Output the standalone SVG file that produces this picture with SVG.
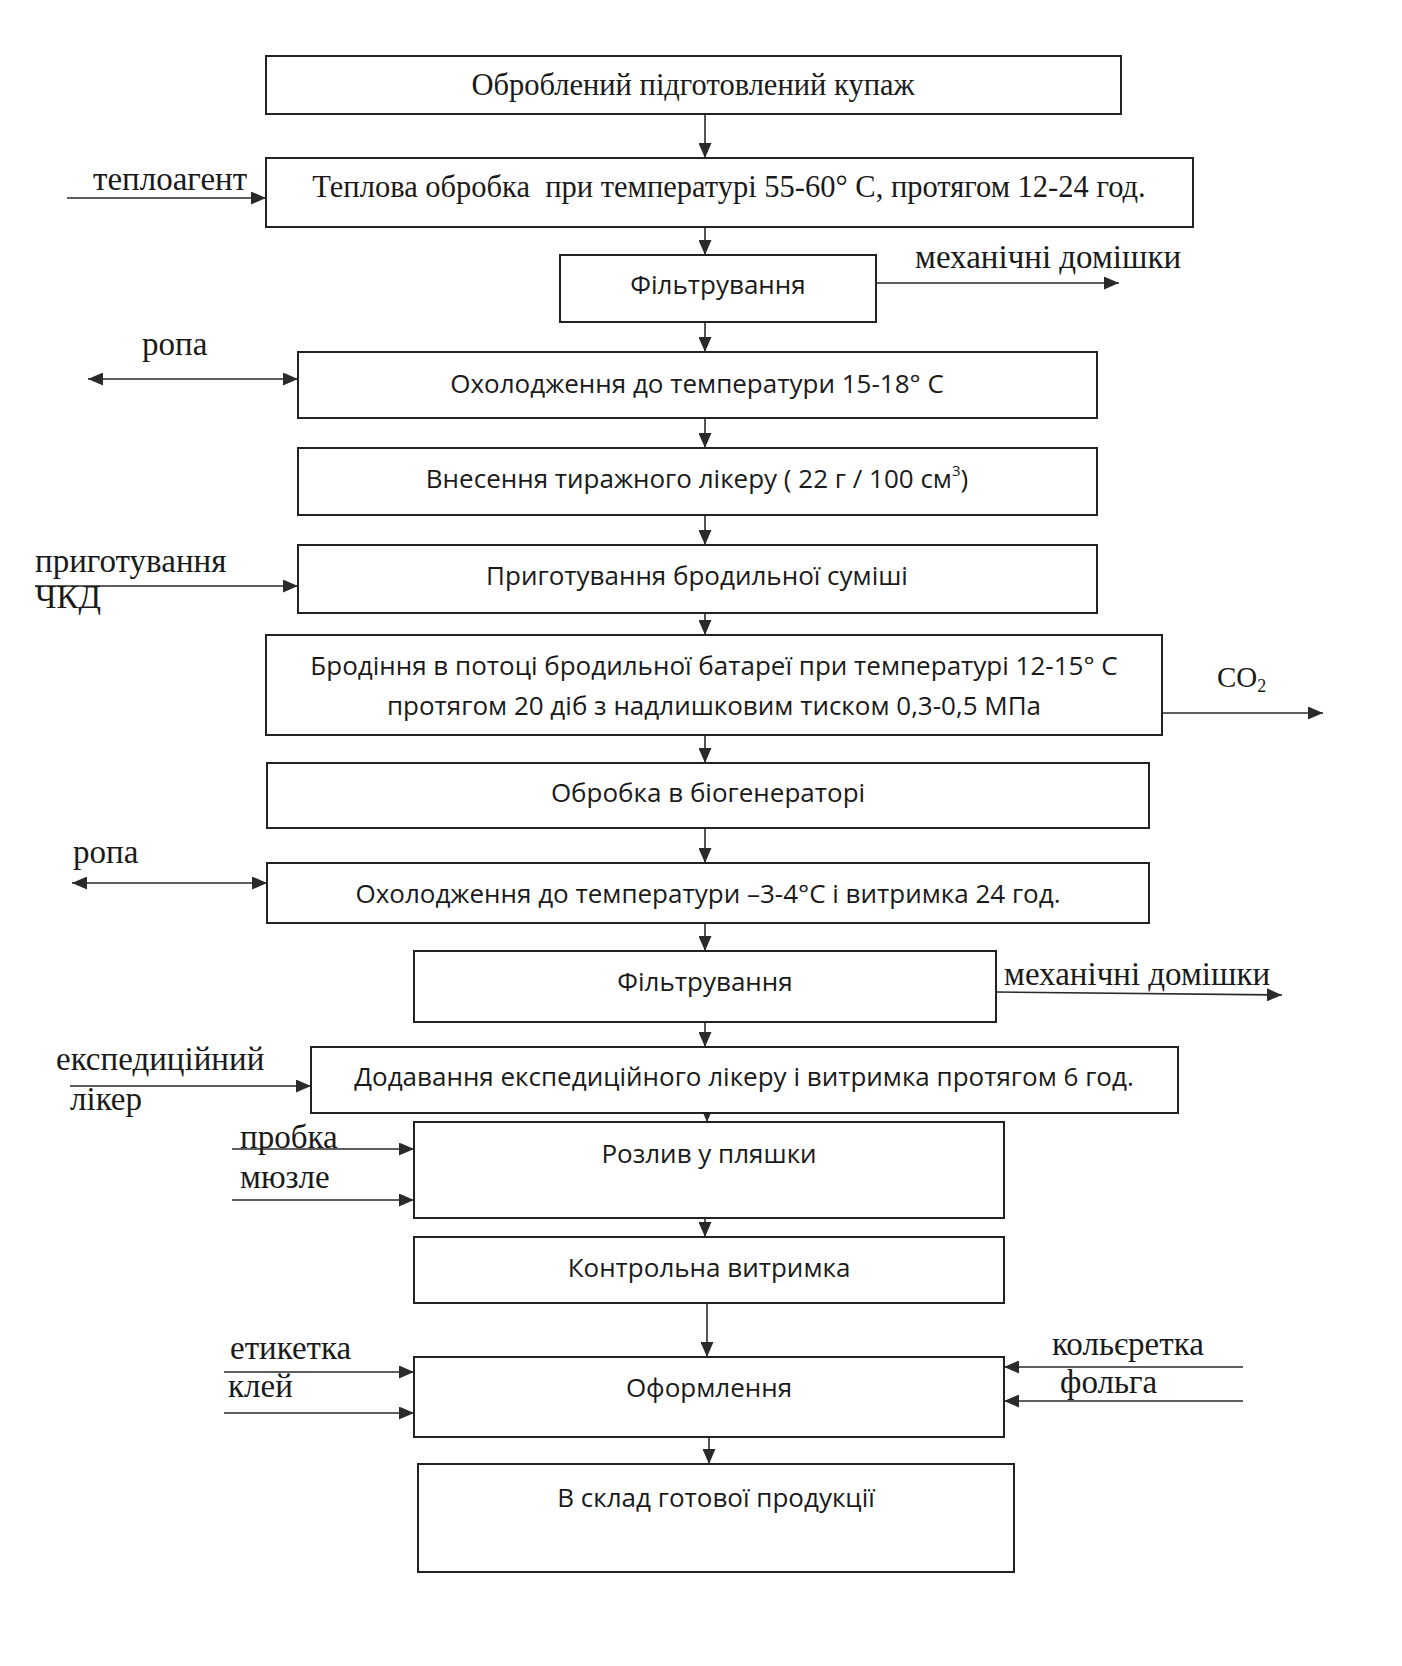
<svg xmlns="http://www.w3.org/2000/svg" width="1402" height="1666" viewBox="0 0 1402 1666">
<style>
.box{fill:#fff;stroke:#222;stroke-width:2}
.ln{fill:none;stroke:#2a2a2a;stroke-width:1.6}
.serif{font-family:"Liberation Serif","Times New Roman",serif;fill:#1a1a1a}
.sans{font-family:"Open Sans","Noto Sans",sans-serif;fill:#1a1a1a;font-size:26px}
.bt{font-size:30.5px}
.lb{font-size:33px}
.c{text-anchor:middle}
</style>
<defs>
<marker id="ah" viewBox="0 0 15 13" markerWidth="15" markerHeight="13" refX="15" refY="6.5" orient="auto-start-reverse" markerUnits="userSpaceOnUse">
<path d="M0,0 L15,6.5 L0,13 Z" fill="#2a2a2a"/>
</marker>
</defs>
<rect width="1402" height="1666" fill="#fff"/>

<g id="connectors">
<line class="ln" x1="705" y1="114" x2="705" y2="158" marker-end="url(#ah)"/>
<line class="ln" x1="705" y1="220" x2="705" y2="255" marker-end="url(#ah)"/>
<line class="ln" x1="705" y1="322" x2="705" y2="352" marker-end="url(#ah)"/>
<line class="ln" x1="705" y1="413" x2="705" y2="448" marker-end="url(#ah)"/>
<line class="ln" x1="705" y1="515" x2="705" y2="545" marker-end="url(#ah)"/>
<line class="ln" x1="705" y1="607" x2="705" y2="635" marker-end="url(#ah)"/>
<line class="ln" x1="705" y1="728" x2="705" y2="763" marker-end="url(#ah)"/>
<line class="ln" x1="705" y1="828" x2="705" y2="863" marker-end="url(#ah)"/>
<line class="ln" x1="705" y1="917" x2="705" y2="951" marker-end="url(#ah)"/>
<line class="ln" x1="705" y1="1017" x2="705" y2="1047" marker-end="url(#ah)"/>
<line class="ln" x1="707" y1="1106" x2="707" y2="1122" marker-end="url(#ah)"/>
<line class="ln" x1="705" y1="1207" x2="705" y2="1237" marker-end="url(#ah)"/>
<line class="ln" x1="707" y1="1303" x2="707" y2="1357" marker-end="url(#ah)"/>
<line class="ln" x1="709" y1="1423" x2="709" y2="1464" marker-end="url(#ah)"/>

<line class="ln" x1="67" y1="198" x2="266" y2="198" marker-end="url(#ah)"/>
<line class="ln" x1="877" y1="283" x2="1119" y2="283" marker-end="url(#ah)"/>
<line class="ln" x1="88" y1="379" x2="298" y2="379" marker-start="url(#ah)" marker-end="url(#ah)"/>
<line class="ln" x1="35" y1="586" x2="298" y2="586" marker-end="url(#ah)"/>
<line class="ln" x1="1162" y1="713" x2="1323" y2="713" marker-end="url(#ah)"/>
<line class="ln" x1="72" y1="883" x2="267" y2="883" marker-start="url(#ah)" marker-end="url(#ah)"/>
<line class="ln" x1="996" y1="992" x2="1282" y2="995" marker-end="url(#ah)"/>
<line class="ln" x1="70" y1="1086" x2="311" y2="1086" marker-end="url(#ah)"/>
<line class="ln" x1="232" y1="1149" x2="414" y2="1149" marker-end="url(#ah)"/>
<line class="ln" x1="232" y1="1200" x2="414" y2="1200" marker-end="url(#ah)"/>
<line class="ln" x1="224" y1="1372" x2="414" y2="1372" marker-end="url(#ah)"/>
<line class="ln" x1="224" y1="1413" x2="414" y2="1413" marker-end="url(#ah)"/>
<line class="ln" x1="1243" y1="1367" x2="1004" y2="1367" marker-end="url(#ah)"/>
<line class="ln" x1="1243" y1="1401" x2="1004" y2="1401" marker-end="url(#ah)"/>
</g>

<g id="n1"><rect class="box" x="266" y="56" width="855" height="58"/><text class="serif bt c" x="693" y="95">Оброблений підготовлений купаж</text></g>
<g id="n2"><rect class="box" x="266" y="158" width="927" height="69"/><text class="serif bt c" x="729" y="197" xml:space="preserve">Теплова обробка  при температурі 55-60° С, протягом 12-24 год.</text></g>
<g id="n3"><rect class="box" x="560" y="255" width="316" height="67"/><text class="sans c" x="718" y="294">Фільтрування</text></g>
<g id="n4"><rect class="box" x="298" y="352" width="799" height="66"/><text class="sans c" x="697" y="393">Охолодження до температури 15-18° С</text></g>
<g id="n5"><rect class="box" x="298" y="448" width="799" height="67"/><text class="sans c" x="697" y="488">Внесення тиражного лікеру ( 22 г / 100 см<tspan font-size="15" dy="-12">3</tspan><tspan dy="12">)</tspan></text></g>
<g id="n6"><rect class="box" x="298" y="545" width="799" height="68"/><text class="sans c" x="697" y="585">Приготування бродильної суміші</text></g>
<g id="n7"><rect class="box" x="266" y="635" width="896" height="100"/><text class="sans c" x="714" y="675">Бродіння в потоці бродильної батареї при температурі 12-15° С</text><text class="sans c" x="714" y="715">протягом 20 діб з надлишковим тиском 0,3-0,5 МПа</text></g>
<g id="n8"><rect class="box" x="267" y="763" width="882" height="65"/><text class="sans c" x="708" y="802">Обробка в біогенераторі</text></g>
<g id="n9"><rect class="box" x="267" y="863" width="882" height="60"/><text class="sans c" x="708" y="903">Охолодження до температури –3-4°С і витримка 24 год.</text></g>
<g id="n10"><rect class="box" x="414" y="951" width="582" height="71"/><text class="sans c" x="705" y="991">Фільтрування</text></g>
<g id="n11"><rect class="box" x="311" y="1047" width="867" height="66"/><text class="sans c" x="744" y="1086">Додавання експедиційного лікеру і витримка протягом 6 год.</text></g>
<g id="n12"><rect class="box" x="414" y="1122" width="590" height="96"/><text class="sans c" x="709" y="1163">Розлив у пляшки</text></g>
<g id="n13"><rect class="box" x="414" y="1237" width="590" height="66"/><text class="sans c" x="709" y="1277">Контрольна витримка</text></g>
<g id="n14"><rect class="box" x="414" y="1357" width="590" height="80"/><text class="sans c" x="709" y="1397">Оформлення</text></g>
<g id="n15"><rect class="box" x="418" y="1464" width="596" height="108"/><text class="sans c" x="716" y="1507">В склад готової продукції</text></g>

<g id="labels">
<text class="serif lb" x="93" y="190">теплоагент</text>
<text class="serif lb" x="915" y="268">механічні домішки</text>
<text class="serif lb" x="142" y="355">ропа</text>
<text class="serif lb" x="35" y="572">приготування</text>
<text class="serif lb" x="35" y="608">ЧКД</text>
<text class="serif" font-size="29" x="1217" y="687">CO<tspan font-size="18" dy="5">2</tspan></text>
<text class="serif lb" x="73" y="863">ропа</text>
<text class="serif lb" x="1004" y="985">механічні домішки</text>
<text class="serif lb" x="56" y="1070">експедиційний</text>
<text class="serif lb" x="70" y="1110">лікер</text>
<text class="serif lb" x="240" y="1148">пробка</text>
<text class="serif lb" x="240" y="1188">мюзле</text>
<text class="serif lb" x="230" y="1359">етикетка</text>
<text class="serif lb" x="228" y="1397">клей</text>
<text class="serif lb" x="1052" y="1355">кольєретка</text>
<text class="serif lb" x="1060" y="1393">фольга</text>
</g>
</svg>
